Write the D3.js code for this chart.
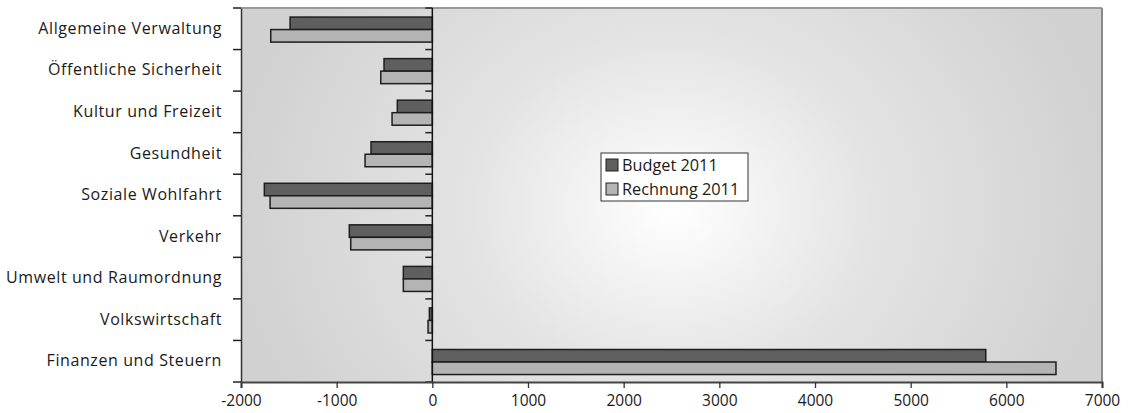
<!DOCTYPE html>
<html>
<head>
<meta charset="utf-8">
<script src="https://cdn.jsdelivr.net/npm/d3@7"></script>
<style>
  body { margin: 0; background: #fff; }
  svg { display: block; }
  svg text { font-family: "Open Sans", "Noto Sans", sans-serif; }
</style>
</head>
<body>
<svg id="chart" width="1136" height="413"></svg>
<script>
// Budget vs. Rechnung 2011 nach Aufgabenbereich (Nettobeträge)
const categories = [
  "Allgemeine Verwaltung",
  "Öffentliche Sicherheit",
  "Kultur und Freizeit",
  "Gesundheit",
  "Soziale Wohlfahrt",
  "Verkehr",
  "Umwelt und Raumordnung",
  "Volkswirtschaft",
  "Finanzen und Steuern"
];
const seriesNames = ["Budget 2011", "Rechnung 2011"];
const budget2011   = [-1487, -505, -366, -641, -1756, -868, -303, -31, 5785];
const rechnung2011 = [-1689, -539, -421, -703, -1696, -853, -303, -45, 6519];
const xTicks = [-2000, -1000, 0, 1000, 2000, 3000, 4000, 5000, 6000, 7000];
const seriesColors = ["#5f5f5f", "#b4b4b4"];

const svg = d3.select("#chart");
const plot = { left: 241, right: 1102, top: 8, bottom: 382 };

const x = d3.scaleLinear().domain([-2000, 7000]).range([plot.left, plot.right]);
const y = d3.scaleBand().domain(categories).range([plot.top, plot.bottom]).paddingInner(0).paddingOuter(0);
const inner = d3.scaleBand().domain(seriesNames).range([0.8, y.bandwidth() + 0.8]).paddingInner(0).paddingOuter(0.66);

// plot-area background: radial gradient, light centre
const defs = svg.append("defs");
const grad = defs.append("radialGradient")
  .attr("id", "bg")
  .attr("gradientUnits", "userSpaceOnUse")
  .attr("cx", 672).attr("cy", 208).attr("r", 440)
  .attr("gradientTransform", "translate(672,208) scale(1,0.85) translate(-672,-208)");
grad.append("stop").attr("offset", "0").attr("stop-color", "#ffffff");
grad.append("stop").attr("offset", "0.45").attr("stop-color", "#e4e4e4");
grad.append("stop").attr("offset", "1").attr("stop-color", "#d1d1d1");

svg.append("rect")
  .attr("x", plot.left).attr("y", plot.top)
  .attr("width", plot.right - plot.left).attr("height", plot.bottom - plot.top)
  .attr("fill", "url(#bg)");

// top and right frame of the plot area
svg.append("line").attr("x1", plot.left).attr("x2", plot.right)
  .attr("y1", plot.top).attr("y2", plot.top)
  .attr("stroke", "#9a9a9a").attr("stroke-width", 2);
svg.append("line").attr("x1", plot.right).attr("x2", plot.right)
  .attr("y1", plot.top).attr("y2", plot.bottom)
  .attr("stroke", "#8a8a8a").attr("stroke-width", 2);

// bars
const series = [budget2011, rechnung2011];
series.forEach((vals, si) => {
  svg.append("g").selectAll("rect")
    .data(vals)
    .join("rect")
    .attr("x", d => x(Math.min(0, d)))
    .attr("width", d => Math.abs(x(d) - x(0)))
    .attr("y", (d, i) => y(categories[i]) + inner(seriesNames[si]))
    .attr("height", inner.bandwidth())
    .attr("fill", seriesColors[si])
    .attr("stroke", "#1e1e1e")
    .attr("stroke-width", 1.5);
});

const fontFamily = '"Open Sans", "Noto Sans", sans-serif';

// category axis on the left edge (labels + ticks)
const yAxis = d3.axisLeft(y).tickSize(0).tickPadding(19);
const gy = svg.append("g").attr("transform", `translate(${plot.left},0)`).call(yAxis)
  .attr("font-family", fontFamily);
gy.select(".domain").attr("stroke", "#333").attr("stroke-width", 1.5);
gy.selectAll("text").attr("font-size", 16).attr("letter-spacing", 0.6).attr("fill", "#1a1a1a");

const boundaries = d3.range(categories.length + 1).map(i => plot.top + i * y.step());
svg.append("g").selectAll("line").data(boundaries).join("line")
  .attr("x1", plot.left - 8).attr("x2", plot.left)
  .attr("y1", d => d).attr("y2", d => d)
  .attr("stroke", "#222").attr("stroke-width", 1.5);

// vertical axis line at zero with its own ticks
svg.append("line")
  .attr("x1", x(0)).attr("x2", x(0))
  .attr("y1", plot.top).attr("y2", plot.bottom)
  .attr("stroke", "#111").attr("stroke-width", 1.5);
svg.append("g").selectAll("line").data(boundaries).join("line")
  .attr("x1", x(0) - 7).attr("x2", x(0))
  .attr("y1", d => d).attr("y2", d => d)
  .attr("stroke", "#222").attr("stroke-width", 1.5);

// value axis at the bottom
const xAxis = d3.axisBottom(x).tickValues(xTicks).tickFormat(d => String(d)).tickSize(6).tickPadding(7);
const gx = svg.append("g").attr("transform", `translate(0,${plot.bottom})`).call(xAxis)
  .attr("font-family", fontFamily);
gx.select(".domain").attr("stroke", "#444").attr("stroke-width", 2);
gx.selectAll(".tick line").attr("stroke", "#333").attr("stroke-width", 1.3);
gx.selectAll("text").attr("font-size", 15.5).attr("fill", "#1a1a1a");

// legend
const legend = svg.append("g").attr("transform", "translate(601,153)");
legend.append("rect").attr("width", 147).attr("height", 48)
  .attr("fill", "#fff").attr("stroke", "#333").attr("stroke-width", 1);
seriesNames.forEach((name, i) => {
  const row = legend.append("g").attr("transform", `translate(5,${6 + i * 24})`);
  row.append("rect").attr("width", 12).attr("height", 12)
    .attr("fill", seriesColors[i]).attr("stroke", "#222").attr("stroke-width", 1);
  row.append("text").attr("x", 16).attr("y", 12)
    .attr("font-size", 16.3).attr("fill", "#1a1a1a").text(name);
});
</script>
</body>
</html>
